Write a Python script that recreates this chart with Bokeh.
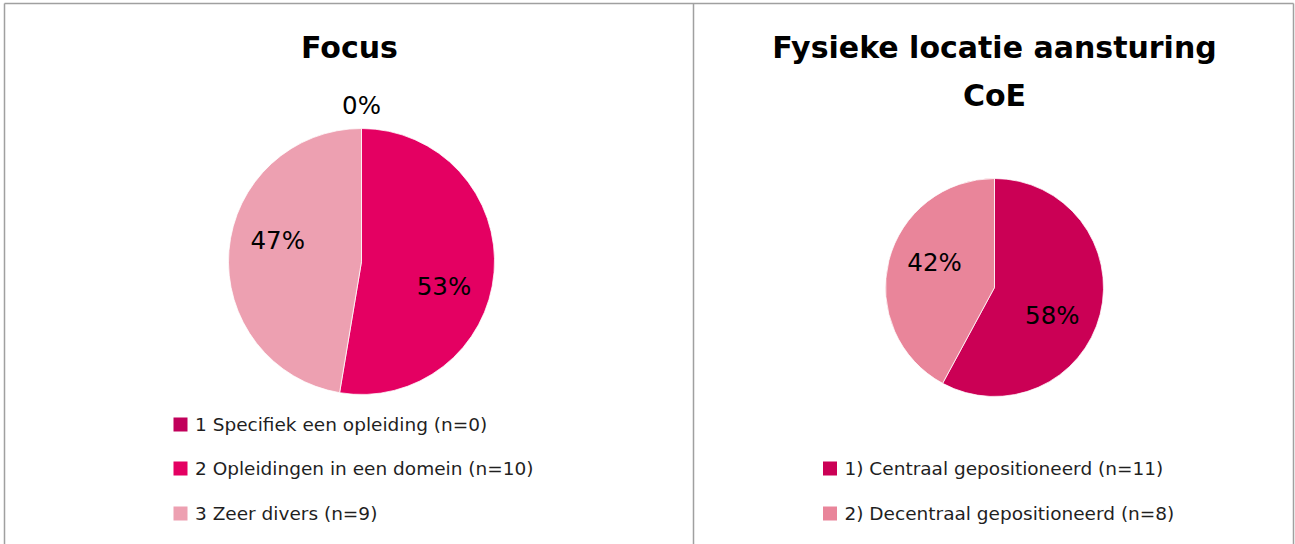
import numpy as np
from bokeh.plotting import figure
from bokeh.models import Range1d, ColumnDataSource
from bokeh.core.properties import value
from bokeh.embed import file_html
from bokeh.resources import INLINE

# ---------------- data ----------------
focus_title = ["Focus"]
focus_labels = ["1 Specifiek een opleiding (n=0)",
                "2 Opleidingen in een domein (n=10)",
                "3 Zeer divers (n=9)"]
focus_counts = [0, 10, 9]
focus_colors = ["#C1005B", "#E40062", "#EDA0B1"]

loc_title = ["Fysieke locatie aansturing", "CoE"]
loc_labels = ["1) Centraal gepositioneerd (n=11)",
              "2) Decentraal gepositioneerd (n=8)"]
loc_counts = [11, 8]
loc_colors = ["#CB0055", "#E9859A"]

# ---------------- layout (picture pixels) ----------------
W, H = 1295, 544
FONT = "DejaVu Sans"


def Y(py):
    return H - py


p = figure(width=W, height=H, x_range=Range1d(0, W), y_range=Range1d(0, H),
           output_backend="svg", toolbar_location=None, min_border=0)
p.axis.visible = False
p.grid.visible = False
p.outline_line_color = None
p.background_fill_color = "white"
p.border_fill_color = "white"

# panel borders
border = "#A0A0A0"
p.segment(x0=[4, 693, 1293, 4], y0=[Y(3), Y(3), Y(3), Y(3)],
          x1=[4, 693, 1293, 1293], y1=[Y(H), Y(H), Y(H), Y(3)],
          line_color=border, line_width=1.5)


def pie(counts, colors, labels, title_lines, title_x, cx, cy, R, title_y, title_dy,
        lab_off, leg_x, leg_ys, leg_size):
    total = float(sum(counts))
    fr = np.array(counts) / total
    cum = np.concatenate([[0], np.cumsum(fr)])
    starts, ends, cols = [], [], []
    for i, f in enumerate(fr):
        if f <= 0:
            continue
        starts.append(np.pi / 2 - 2 * np.pi * cum[i + 1])
        ends.append(np.pi / 2 - 2 * np.pi * cum[i])
        cols.append(colors[i])
    src = ColumnDataSource(dict(x=[cx] * len(starts), y=[Y(cy)] * len(starts),
                                s=starts, e=ends, c=cols))
    p.wedge(x="x", y="y", radius=R, start_angle="s", end_angle="e",
            fill_color="c", line_color="white", line_width=0.75, source=src)
    # percentage labels
    pct = ["%d%%" % round(100 * f) for f in fr]
    lx = [cx + dx * R for dx, dy in lab_off]
    ly = [Y(cy + dy * R) for dx, dy in lab_off]
    p.text(x=lx, y=ly, text=pct, text_align="center", text_baseline="middle",
           text_font=value(FONT), text_font_size=value("24.5px"), text_color="#000000")
    # title
    tx = [title_x] * len(title_lines)
    ty = [Y(title_y + i * title_dy) for i in range(len(title_lines))]
    p.text(x=tx, y=ty, text=title_lines, text_align="center", text_baseline="middle",
           text_font=value(FONT), text_font_size=value("30px"), text_font_style="bold",
           text_color="#000000")
    # legend
    p.rect(x=[leg_x] * len(labels), y=[Y(v) for v in leg_ys], width=leg_size, height=leg_size,
           fill_color=colors, line_color=None)
    p.text(x=[leg_x + 14.5] * len(labels), y=[Y(v) for v in leg_ys], text=labels,
           text_align="left", text_baseline="middle", text_font=value(FONT),
           text_font_size=value("18.5px"), text_color="#1F1F1F")


pie(focus_counts, focus_colors, focus_labels, focus_title, 349, 361, 261, 133, 47, 48,
    [(0, -1.17), (0.62, 0.19), (-0.63, -0.16)], 180, [424, 468, 513], 14)
pie(loc_counts, loc_colors, loc_labels, loc_title, 994, 994, 287, 109, 47, 48,
    [(0.53, 0.26), (-0.55, -0.23)], 829.5, [468, 513], 14)

open("out.html", "w").write(file_html(p, INLINE))
